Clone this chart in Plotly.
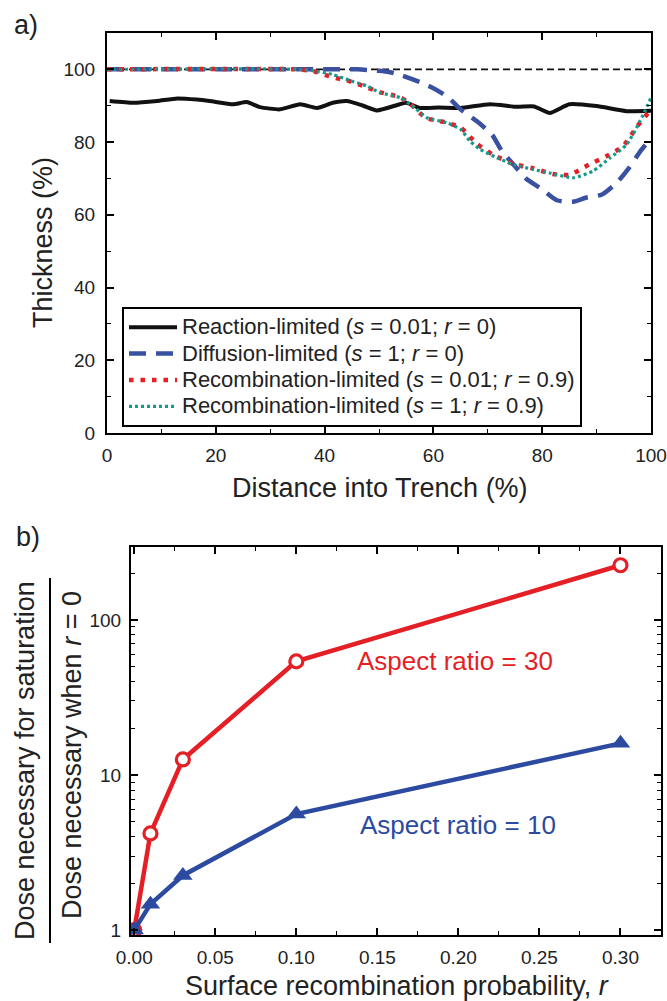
import plotly.graph_objects as go
import math

# ---------------- Panel a data ----------------
ref_x = [0, 100]
ref_y = [100, 100]

react_x = [0.5, 4.8, 9.2, 12.9, 16.5, 18.9, 23.2, 25.7, 28.1, 31.8, 35.5, 38.6, 41.5, 44.1,
           47.1, 49.6, 53.8, 55.0, 57.5, 61.0, 65.0, 70.4, 75.4, 78.5, 81.4, 85.0, 90.0, 95.5, 100]
react_y = [91.3, 90.8, 91.3, 92.0, 91.7, 91.3, 90.4, 91.0, 89.6, 89.0, 90.4, 89.4, 90.8, 91.3,
           90.0, 88.7, 90.4, 90.8, 89.4, 89.5, 89.4, 90.4, 89.7, 89.8, 88.0, 90.4, 89.9, 88.5, 88.6]

diff_x = [0, 40, 46, 50, 52, 54, 57.5, 60, 62.7, 65, 68, 70.8, 72.6, 74.4, 77, 80, 82.7, 85.7,
          88, 91, 93.8, 96, 98, 100]
diff_y = [100, 100, 100, 99.6, 99.2, 98.4, 96.5, 94.8, 92.3, 89, 85.7, 82, 77.5, 74.4, 70, 67,
          64, 63.6, 64.7, 65.6, 69, 73, 77.4, 81]

rec1_x = [0, 35, 38, 41.5, 44, 47, 50, 53.9, 55.5, 58.6, 62, 65, 68, 71, 74.7, 78.3, 82, 85,
          88.6, 91.8, 94.8, 97.5, 100]
rec1_y = [100, 100, 99.5, 97.8, 97, 95.5, 93.8, 92.3, 90.8, 86.7, 85.5, 84, 79.5, 76.5, 74,
          72.8, 71.2, 71, 73.8, 76.1, 78.8, 84.4, 89]

rec2_x = [0, 35.5, 38, 41.5, 44.5, 47.8, 50.2, 53.9, 56.6, 58.8, 62.5, 65, 66.7, 68.6, 71.7,
          74.7, 78.3, 81.4, 85.7, 89.3, 92.5, 95.5, 98, 100]
rec2_y = [100, 100, 99.6, 98.6, 97, 95.4, 93.6, 92.2, 89.4, 86.7, 85.3, 83.5, 80.3, 78, 75.7,
          73.8, 72.5, 71.5, 70.2, 72, 75.7, 79.3, 85.8, 92.2]

legend_names = [
    "Reaction-limited (<i>s</i> = 0.01; <i>r</i> = 0)",
    "Diffusion-limited (<i>s</i> = 1; <i>r</i> = 0)",
    "Recombination-limited (<i>s</i> = 0.01; <i>r</i> = 0.9)",
    "Recombination-limited (<i>s</i> = 1; <i>r</i> = 0.9)",
]

# ---------------- Panel b data ----------------
r_vals = [0.0, 0.01, 0.03, 0.10, 0.30]
ar30 = [1.0, 4.2, 12.6, 54, 225]
ar10 = [1.0, 1.47, 2.25, 5.6, 16]
xb_ticks = [0.00, 0.05, 0.10, 0.15, 0.20, 0.25, 0.30]
yb_ticks = [1, 10, 100]
yb_minor = [2, 3, 4, 5, 6, 7, 8, 9, 20, 30, 40, 50, 60, 70, 80, 90, 200]

FONT = "Liberation Sans, Arial, sans-serif"
TXT = "#222222"
RED = "#e41f26"
BLUE = "#2b4aa0"
TEAL = "#129a8e"
DBLUE = "#3a50a0"

def leg(t):
    return '<span style="font-size:22px">' + t + '</span>'

fig = go.Figure()

fig.add_trace(go.Scatter(x=ref_x, y=ref_y, mode="lines", showlegend=False,
                         line=dict(color="#111111", width=1.6, dash="7px,4px"),
                         xaxis="x", yaxis="y"))
fig.add_trace(go.Scatter(x=react_x, y=react_y, mode="lines", name=leg(legend_names[0]),
                         line=dict(color="#111111", width=4, shape="spline", smoothing=0.5),
                         xaxis="x", yaxis="y"))
fig.add_trace(go.Scatter(x=diff_x, y=diff_y, mode="lines", name=leg(legend_names[1]),
                         line=dict(color=DBLUE, width=4.5, dash="17px,10px", shape="spline", smoothing=0.6),
                         xaxis="x", yaxis="y"))
fig.add_trace(go.Scatter(x=rec1_x, y=rec1_y, mode="lines", name=leg(legend_names[2]),
                         line=dict(color=RED, width=4.5, dash="4.5px,7px", shape="spline", smoothing=0.6),
                         xaxis="x", yaxis="y"))
fig.add_trace(go.Scatter(x=rec2_x, y=rec2_y, mode="lines", name=leg(legend_names[3]),
                         line=dict(color=TEAL, width=3.2, dash="3px,3px", shape="spline", smoothing=0.6),
                         xaxis="x", yaxis="y"))

fig.add_trace(go.Scatter(x=r_vals, y=ar30, mode="lines+markers", showlegend=False,
                         line=dict(color=RED, width=4.5),
                         marker=dict(symbol="circle", size=13, color="white",
                                     line=dict(color=RED, width=3.2)),
                         xaxis="x2", yaxis="y2"))
fig.add_trace(go.Scatter(x=r_vals, y=ar10, mode="lines+markers", showlegend=False,
                         line=dict(color=BLUE, width=4.5),
                         marker=dict(symbol="triangle-up", size=17, color=BLUE),
                         xaxis="x2", yaxis="y2"))

W, H = 667, 1001
def px(x):
    return x / W
def py(y):
    return 1 - y / H

axis_common = dict(showline=True, linecolor="black", linewidth=2, mirror="ticks",
                   ticks="inside", ticklen=7, tickwidth=1.6, tickcolor="black",
                   showgrid=False, zeroline=False, automargin=False,
                   ticklabeloverflow="allow",
                   tickfont=dict(family=FONT, size=19, color=TXT))
minor_common = dict(ticks="inside", ticklen=4, tickwidth=1.4, tickcolor="black", showgrid=False)

def ann(text, x, y, size=27, color=TXT, angle=0, xanchor="center"):
    return dict(text=text, x=px(x), y=py(y), xref="paper", yref="paper", showarrow=False,
                textangle=angle, xanchor=xanchor, yanchor="middle",
                font=dict(family=FONT, size=size, color=color))

fig.update_layout(
    template="none",
    width=W, height=H,
    margin=dict(l=0, r=0, t=0, b=0, autoexpand=False),
    paper_bgcolor="white", plot_bgcolor="white",
    font=dict(family=FONT, color=TXT),
    xaxis=dict(domain=[px(107), px(651)], range=[0, 100], dtick=20, tick0=0, anchor="y",
               minor=dict(dtick=10, tick0=0, **minor_common), ticklabelstandoff=4,
               **axis_common),
    yaxis=dict(domain=[py(433), py(33)], range=[0, 110], dtick=20, tick0=0, anchor="x",
               minor=dict(dtick=10, tick0=0, **minor_common), ticklabelstandoff=6,
               **axis_common),
    xaxis2=dict(domain=[px(131), px(661)], range=[-0.002, 0.325], anchor="y2",
                tickmode="array", tickvals=xb_ticks, tickformat=".2f",
                minor=dict(dtick=0.025, tick0=0, **minor_common), ticklabelstandoff=4,
                **axis_common),
    yaxis2=dict(domain=[py(935), py(547)], type="log", range=[math.log10(0.93), math.log10(295)],
                anchor="x2", tickmode="array", tickvals=yb_ticks, ticktext=[str(v) for v in yb_ticks],
                minor=dict(tickmode="array", tickvals=yb_minor, **minor_common),
                ticklabelstandoff=4,
                **axis_common),
    showlegend=True,
    legend=dict(x=px(122), y=py(307), xanchor="left", yanchor="top",
                bgcolor="white", bordercolor="black", borderwidth=2,
                font=dict(family=FONT, size=18, color=TXT),
                itemwidth=48, tracegroupgap=0, traceorder="normal"),
    annotations=[
        ann("a)", 12, 25, xanchor="left"),
        ann("b)", 14, 537, xanchor="left"),
        ann("Thickness (%)", 43, 243, angle=-90),
        ann("Distance into Trench (%)", 379.5, 488),
        ann("Dose necessary for saturation", 25, 761, angle=-90),
        ann("Dose necessary when <i>r</i> = 0", 72, 755, angle=-90),
        ann("Surface recombination probability, <i>r</i>", 397.5, 986),
        ann("Aspect ratio = 30", 455, 661, size=26, color=RED),
        ann("Aspect ratio = 10", 458, 825, size=26, color=BLUE),
    ],
    shapes=[
        dict(type="line", xref="paper", yref="paper", x0=px(50), x1=px(50), y0=py(578), y1=py(943),
             line=dict(color="black", width=2)),
    ],
)

fig.write_html("out.html")
